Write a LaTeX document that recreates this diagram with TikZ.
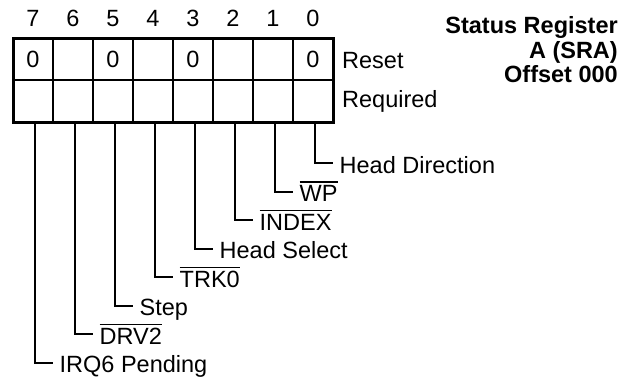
\documentclass[tikz,border=0pt]{standalone}
\usepackage{fontspec}
\setmainfont{Liberation Sans}
\newcommand\myovl[1]{\leavevmode\vbox{\hrule height 1.6pt\kern 2.4pt\hbox{#1}}}
\begin{document}
\begin{tikzpicture}[x=1pt,y=-1pt,
  font=\fontsize{23.5}{24}\selectfont,
  cell/.style={draw, line width=2pt, minimum width=40pt, minimum height=42pt, inner sep=0pt, outer sep=0pt},
  lead/.style={line width=2pt},
  lbl/.style={anchor=base west, inner sep=0pt},
  num/.style={anchor=base, inner sep=0pt},
  ttl/.style={anchor=base east, inner sep=0pt, font=\fontsize{23.5}{24}\selectfont\bfseries}]
\useasboundingbox (0,0) rectangle (635,380);
% bit numbers
\foreach \b in {0,...,7} {
  \node[num] (b\b) at ({33+40*(7-\b)},26) {\b};
}
% reset row
\node[cell] (r7) at (33,59) {0};
\node[cell] (r6) at (73,59) {};
\node[cell] (r5) at (113,59) {0};
\node[cell] (r4) at (153,59) {};
\node[cell] (r3) at (193,59) {0};
\node[cell] (r2) at (233,59) {};
\node[cell] (r1) at (273,59) {};
\node[cell] (r0) at (313,59) {0};
% required row
\foreach \b in {0,...,7} {
  \node[cell] (q\b) at ({33+40*(7-\b)},101) {};
}
\draw[line width=3pt] (r7.north west) rectangle (q0.south east);
% row labels
\node[lbl] (reset) at (342,68) {Reset};
\node[lbl] (req) at (342,107) {Required};
% title
\node[ttl] (t1) at (618,34) {Status Register};
\node[ttl] (t2) at (618,58) {A (SRA)};
\node[ttl] (t3) at (618,82) {Offset 000};
% leaders
\foreach \b/\txt in {0/{Head Direction},1/{\myovl{WP}},2/{\myovl{INDEX}},3/{Head Select},4/{\myovl{TRK0}},5/{Step},6/{\myovl{DRV2}},7/{IRQ6 Pending}} {
  \coordinate (e\b) at ({34.5+40*(7-\b)+18},{163+28.5*\b});
  \draw[lead] ([xshift=1.5pt]q\b.south) |- (e\b);
  \node[lbl] (l\b) at ({34.5+40*(7-\b)+25},{173+28.5*\b}) {\txt};
}
\end{tikzpicture}
\end{document}
